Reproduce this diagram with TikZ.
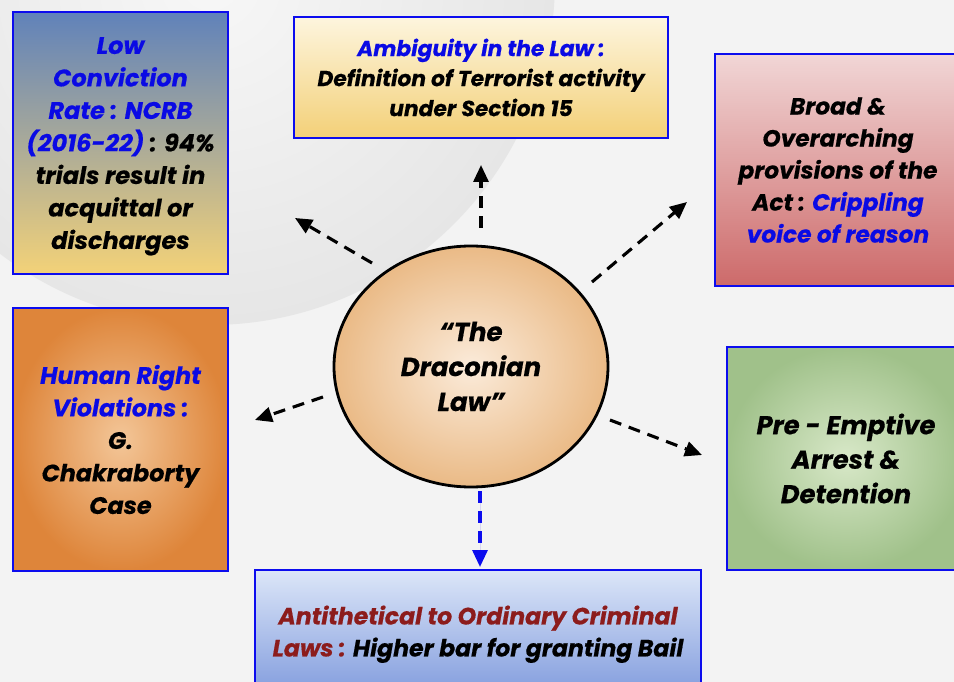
\documentclass[tikz,border=0pt]{standalone}
\usepackage{fontspec}
\setmainfont{Poppins}[BoldItalicFeatures={FakeBold=0.5}]
\usetikzlibrary{arrows.meta,shapes.geometric}
\definecolor{bg}{RGB}{243,243,243}
\definecolor{bgin}{RGB}{247,247,247}
\definecolor{bgout}{RGB}{230,230,230}
\definecolor{bbord}{RGB}{12,12,238}
\definecolor{tb}{RGB}{10,10,228}
\definecolor{tr}{RGB}{140,28,28}
\definecolor{bAtop}{RGB}{96,130,186}
\definecolor{bAbot}{RGB}{243,210,120}
\definecolor{bBtop}{RGB}{253,245,222}
\definecolor{bBbot}{RGB}{243,208,120}
\definecolor{bCtop}{RGB}{241,214,214}
\definecolor{bCbot}{RGB}{205,106,106}
\definecolor{bDin}{RGB}{243,198,152}
\definecolor{bDout}{RGB}{222,133,58}
\definecolor{bEin}{RGB}{216,232,200}
\definecolor{bEout}{RGB}{160,193,138}
\definecolor{bFtop}{RGB}{220,230,248}
\definecolor{bFbot}{RGB}{132,158,222}
\definecolor{elin}{RGB}{251,235,218}
\definecolor{elout}{RGB}{234,186,134}
\begin{document}
\begin{tikzpicture}[x=1pt,y=-1pt,
  box/.style={draw=bbord, line width=2.6pt, rectangle, inner sep=0pt, align=center},
  arr/.style={line width=3.1pt, dash pattern=on 12pt off 8pt, -{Triangle[length=17pt,width=15pt]}}
]
\useasboundingbox (0,0) rectangle (954,682);
\clip (0,0) rectangle (954,682);
\fill[bg] (0,0) rectangle (954,682);
\shade[inner color=bgin, outer color=bgout] (210,-20) circle[radius=345pt];

% boxes
\node[box, top color=bAtop, bottom color=bAbot, minimum width=215pt, minimum height=262pt, text depth=0pt,
  font=\bfseries\itshape\fontsize{24}{32.5}\selectfont] (lowc) at (120.5,143)
  {\textcolor{tb}{Low}\\ \textcolor{tb}{Conviction}\\ \textcolor{tb}{Rate : NCRB}\\ \textcolor{tb}{(2016-22)} : 94\%\\ trials result in\\ acquittal or\\ discharges};

\node[box, top color=bBtop, bottom color=bBbot, minimum width=374pt, minimum height=121pt,
  font=\bfseries\itshape\fontsize{21.8}{30}\selectfont] (ambig) at (481,77.5)
  {\textcolor{tb}{Ambiguity in the Law :}\\ Definition of Terrorist activity\\ under Section 15};

\node[box, top color=bCtop, bottom color=bCbot, minimum width=246pt, minimum height=232pt,
  font=\bfseries\itshape\fontsize{23.3}{32}\selectfont] (broad) at (838,170)
  {Broad \&\\ Overarching\\ provisions of the\\ Act : \textcolor{tb}{Crippling}\\ \textcolor{tb}{voice of reason}};

\node[box, inner color=bDin, outer color=bDout, minimum width=215pt, minimum height=263pt,
  font=\bfseries\itshape\fontsize{23.8}{32.5}\selectfont] (human) at (120.5,439.5)
  {\textcolor{tb}{Human Right}\\ \textcolor{tb}{Violations :}\\ G.\\ Chakraborty\\ Case};

\node[box, inner color=bEin, outer color=bEout, minimum width=238pt, minimum height=223pt,
  font=\bfseries\itshape\fontsize{25.8}{34.5}\selectfont] (pre) at (846,458.5)
  {Pre - Emptive\\ Arrest \&\\ Detention};

\node[box, top color=bFtop, bottom color=bFbot, minimum width=446pt, minimum height=122pt, text depth=0pt,
  font=\bfseries\itshape\fontsize{23.6}{32}\selectfont] (anti) at (478,631)
  {\textcolor{tr}{Antithetical to Ordinary Criminal}\\ \textcolor{tr}{Laws :} Higher bar for granting Bail};

% centre
\node[ellipse, draw=black, line width=2.8pt, inner sep=0pt, minimum width=274pt, minimum height=241pt,
  inner color=elin, outer color=elout, align=center,
  font=\bfseries\itshape\fontsize{26}{35}\selectfont] (law) at (471,366.5)
  {“The\\ Draconian\\ Law”};

% arrow ends
\coordinate (uS) at (481,228);  \coordinate (uE) at (481,165);
\coordinate (ulS) at (372,263); \coordinate (ulE) at (295,218);
\coordinate (urS) at (592,282); \coordinate (urE) at (687,202);
\coordinate (lS) at (323,397);  \coordinate (lE) at (255,420);
\coordinate (rS) at (610,420);  \coordinate (rE) at (702,455);
\coordinate (dS) at (480,491);  \coordinate (dE) at (480,567);

\draw[arr] (uS) -- (uE);
\draw[arr] (ulS) -- (ulE);
\draw[arr] (urS) -- (urE);
\draw[arr] (lS) -- (lE);
\draw[arr] (rS) -- (rE);
\draw[arr, draw=bbord, fill=bbord] (dS) -- (dE);
\end{tikzpicture}
\end{document}
